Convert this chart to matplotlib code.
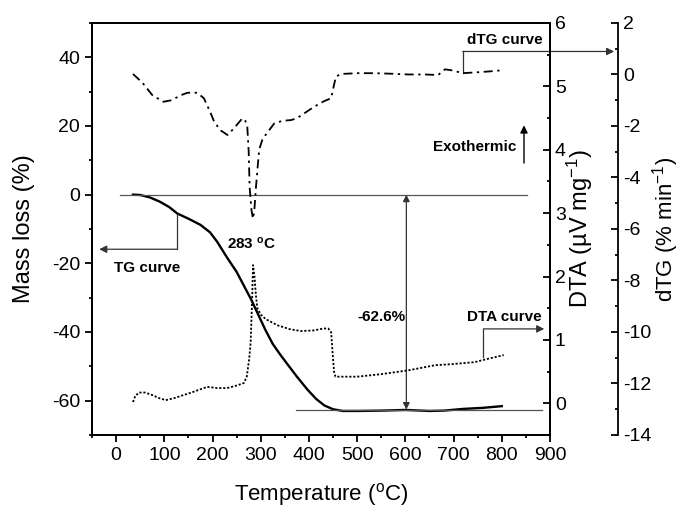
import matplotlib
matplotlib.use("Agg")
import matplotlib.pyplot as plt
from matplotlib.ticker import MultipleLocator

plt.rcParams['font.family'] = ['Liberation Sans', 'DejaVu Sans']
plt.rcParams['mathtext.fontset'] = 'custom'
plt.rcParams['mathtext.rm'] = 'Liberation Sans'
plt.rcParams['mathtext.it'] = 'Liberation Sans:italic'
plt.rcParams['mathtext.bf'] = 'Liberation Sans:bold'
plt.rcParams['axes.unicode_minus'] = False

# TG curve (mass loss, %)
tg_temp = [35, 50, 70, 90, 110, 127, 150, 175, 195, 210, 230, 250, 265, 280, 295,
           310, 325, 340, 356, 375, 397, 415, 432, 450, 470, 500, 550, 600, 650,
           680, 720, 760, 800]
tg_mass = [0, -0.1, -0.8, -2.0, -3.6, -5.5, -7.0, -8.8, -11.0, -13.8, -18.3, -22.5,
           -26.5, -30.5, -35.0, -39.5, -43.5, -46.5, -49.5, -53.0, -56.8, -59.5,
           -61.4, -62.5, -63.0, -63.0, -62.9, -62.7, -63.0, -62.9, -62.4, -62.1, -61.6]

# DTA curve (uV/mg)
dta_temp = [35, 40, 48, 60, 75, 90, 103, 120, 140, 160, 189, 210, 230, 250, 265, 271,
            276, 279, 282, 284, 287, 290, 293, 300, 310, 335, 360, 383, 410, 430, 440,
            446, 449, 452, 455, 500, 550, 606, 661, 700, 744, 770, 804]
dta_val = [0.02, 0.12, 0.17, 0.17, 0.13, 0.08, 0.05, 0.08, 0.13, 0.18, 0.26, 0.24,
           0.24, 0.28, 0.32, 0.42, 0.7, 0.95, 1.6, 2.18, 2.0, 1.7, 1.5, 1.4, 1.33,
           1.23, 1.17, 1.14, 1.15, 1.18, 1.18, 1.12, 0.8, 0.5, 0.42, 0.42, 0.46,
           0.52, 0.6, 0.62, 0.65, 0.7, 0.76]

# dTG curve (%/min)
dtg_temp = [35, 55, 75, 98, 115, 135, 148, 168, 182, 195, 202, 215, 231, 244, 262,
            268, 272, 275, 277, 281, 284, 287, 290, 294, 297, 303, 310, 328, 345, 363,
            375, 395, 411, 430, 446, 452, 456, 467, 500, 536, 570, 606, 640, 668, 682,
            700, 718, 745, 775, 804]
dtg_val = [0.02, -0.33, -0.8, -1.06, -1.0, -0.8, -0.71, -0.71, -0.92, -1.45, -1.77,
           -2.15, -2.35, -2.1, -1.7, -1.8, -2.0, -3.0, -4.4, -5.3, -5.6, -5.2, -4.4,
           -3.5, -2.9, -2.55, -2.35, -1.9, -1.8, -1.77, -1.7, -1.45, -1.25, -1.05,
           -0.92, -0.4, -0.08, 0.02, 0.05, 0.05, 0.03, 0.0, 0.0, -0.02, 0.2, 0.15,
           0.05, 0.08, 0.12, 0.17]

fig = plt.figure(figsize=(6.83, 5.14), dpi=100)
ax1 = fig.add_axes([0.1347, 0.1537, 0.6706, 0.8016])
ax2 = ax1.twinx()
ax3 = ax1.twinx()

# curves
ax1.plot(tg_temp, tg_mass, color='black', lw=1.7)
ax2.plot(dta_temp, dta_val, color='black', lw=1.3, linestyle=(0, (1.2, 1.0)))
ax3.plot(dtg_temp, dtg_val, color='black', lw=1.3, linestyle=(0, (5, 2.5, 1.3, 2.5)))

# limits and ticks
ax1.set_xlim(-50, 900)
ax1.set_ylim(-70, 50)
ax2.set_ylim(-0.5, 6)
ax3.set_ylim(-14, 2)

ax1.xaxis.set_major_locator(MultipleLocator(100))
ax1.xaxis.set_minor_locator(MultipleLocator(50))
ax1.yaxis.set_major_locator(MultipleLocator(20))
ax1.yaxis.set_minor_locator(MultipleLocator(10))
ax2.yaxis.set_major_locator(MultipleLocator(1))
ax2.yaxis.set_minor_locator(MultipleLocator(0.5))
ax3.yaxis.set_major_locator(MultipleLocator(2))
ax3.yaxis.set_minor_locator(MultipleLocator(1))

ax1.set_xticks(range(0, 901, 100))

for ax in (ax1, ax2, ax3):
    for s in ax.spines.values():
        s.set_linewidth(1.3)

ax1.tick_params(axis='both', which='major', direction='out', length=5, width=1.3, labelsize=14)
ax1.tick_params(axis='both', which='minor', direction='out', length=2.5, width=1.3)
ax2.tick_params(axis='y', which='major', direction='in', length=5, width=1.3, labelsize=14)
ax2.tick_params(axis='y', which='minor', direction='in', length=2.5, width=1.3)
ax3.tick_params(axis='y', which='major', direction='in', length=5, width=1.3, labelsize=14)
ax3.tick_params(axis='y', which='minor', direction='in', length=2.5, width=1.3)

ax3.spines['right'].set_position(('axes', 1.1485))
for side in ('left', 'top', 'bottom'):
    ax3.spines[side].set_visible(False)

# axis labels
ax1.set_xlabel(r'Temperature ($^{\rm o}$C)', fontsize=16)
ax1.xaxis.set_label_coords(0.5, -0.112)
ax1.set_ylabel('Mass loss (%)', fontsize=17)
ax1.yaxis.set_label_coords(-0.125, 0.5)
ax2.set_ylabel(r'DTA (µV mg$^{-1}$)', fontsize=17)
ax2.yaxis.set_label_coords(1.033, 0.5)
ax3.set_ylabel(r'dTG (% min$^{-1}$)', fontsize=16)
ax3.yaxis.set_label_coords(1.218, 0.5)

# reference lines
line_c = '#555555'
ax1.plot([8, 852], [0, 0], color=line_c, lw=0.9)
ax1.plot([373, 883], [-62.6, -62.6], color=line_c, lw=0.9)
ax1.annotate('', xy=(602, -62.6), xytext=(602, 0),
             arrowprops=dict(arrowstyle='<|-|>', color='#333333', lw=0.9,
                             mutation_scale=10, shrinkA=0, shrinkB=0))

# TG curve label arrow
arr = dict(arrowstyle='-|>', color='#333333', lw=0.9, mutation_scale=11, shrinkA=0, shrinkB=0)
ax1.plot([127, 127], [-5.5, -15.9], color='#333333', lw=0.9)
ax1.annotate('', xy=(-35, -15.9), xytext=(127, -15.9), arrowprops=arr, annotation_clip=False)

# DTA curve label arrow
ax1.plot([762, 762], [-47.3, -39.1], color='#333333', lw=0.9)
ax1.annotate('', xy=(888, -39.1), xytext=(762, -39.1), arrowprops=arr, annotation_clip=False)

# dTG curve label arrow
ax1.plot([719, 719], [35.4, 41.7], color='#333333', lw=0.9, clip_on=False)
ax1.annotate('', xy=(1033, 41.7), xytext=(719, 41.7), arrowprops=arr, annotation_clip=False)

# exothermic arrow
ax1.annotate('', xy=(846, 20.2), xytext=(846, 9.2),
             arrowprops=dict(arrowstyle='-|>', color='black', lw=1.0, mutation_scale=11,
                             shrinkA=0, shrinkB=0))

bold = dict(fontsize=11, fontweight='bold')
ax1.text(65, -21.4, 'TG curve', ha='center', va='center', **bold)
ax1.text(806, 44.9, 'dTG curve', ha='center', va='center', **bold)
ax1.text(806, -35.7, 'DTA curve', ha='center', va='center', **bold)
ax1.text(831, 13.9, 'Exothermic', ha='right', va='center', **bold)
ax1.text(550, -35.7, '-62.6%', ha='center', va='center', **bold)
ax1.text(281, -14.2, r'283 $^{\rm \mathbf{o}}$C', ha='center', va='center', **bold)

fig.savefig('out.png', dpi=100)
